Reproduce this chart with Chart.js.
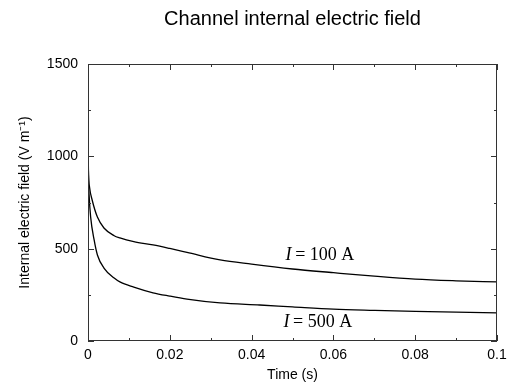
<!DOCTYPE html>
<html><head><meta charset="utf-8">
<script src="https://cdn.jsdelivr.net/npm/chart.js@4/dist/chart.umd.min.js"></script>
<style>html,body{margin:0;padding:0;background:#fff}#wrap{width:515px;height:387px}</style>
</head><body><div id="wrap"><canvas id="c" width="515" height="387"></canvas></div>
<script>
const time100 = [0, 0.0001, 0.0004, 0.001, 0.0023, 0.0039, 0.0064, 0.0078, 0.0112, 0.0159, 0.02, 0.0242, 0.0323, 0.04, 0.05, 0.06, 0.07, 0.08, 0.09, 0.1];
const field100 = [1120, 930, 830, 765, 671, 612, 570, 558, 538, 520, 501, 480, 439, 416, 390, 370, 351, 335, 326, 320];
const time500 = [0, 0.0001, 0.0003, 0.00065, 0.0015, 0.0023, 0.0039, 0.0064, 0.0078, 0.0112, 0.0159, 0.02, 0.0242, 0.0323, 0.042, 0.05, 0.06, 0.07, 0.08, 0.09, 0.1];
const field500 = [1120, 900, 780, 671, 547, 466, 395, 341, 320, 292, 261, 243, 227, 206, 195, 185, 173, 166, 160, 156, 152];
const xTicks = [0, 0.02, 0.04, 0.06, 0.08, 0.1];
const xTickText = ['0', '0.02', '0.04', '0.06', '0.08', '0.1'];
const yTicks = [0, 500, 1000, 1500];
const yTickText = ['0', '500', '1000', '1500'];
const seriesLabels = ['100 A', '500 A'];
const labelPos = [[0.0567, 466], [0.0562, 103]];
const titleText = 'Channel internal electric field';

const toPts = (xs, ys) => xs.map((x, i) => ({x: x, y: ys[i]}));

const boxPlugin = {
  id: 'box',
  afterDraw(chart) {
    const {ctx, chartArea: a, scales: {x, y}} = chart;
    ctx.save();
    ctx.strokeStyle = '#333';
    ctx.lineWidth = 1;
    ctx.strokeRect(a.left + 0.5, a.top + 0.5, a.right - a.left - 1, a.bottom - a.top - 1);
    ctx.beginPath();
    for (let v = 0; v <= 0.1001; v += 0.01) {
      const px = Math.round(x.getPixelForValue(v)) + 0.5;
      const major = Math.round(v * 100) % 2 === 0;
      const L = major ? 6 : 3;
      ctx.moveTo(px, a.bottom); ctx.lineTo(px, a.bottom - L);
      ctx.moveTo(px, a.top); ctx.lineTo(px, a.top + L);
    }
    for (let v = 0; v <= 1500; v += 250) {
      const py = Math.round(y.getPixelForValue(v)) + 0.5;
      const major = v % 500 === 0;
      const L = major ? 6 : 3;
      ctx.moveTo(a.left, py); ctx.lineTo(a.left + L, py);
      ctx.moveTo(a.right, py); ctx.lineTo(a.right - L, py);
    }
    ctx.stroke();
    // title
    ctx.fillStyle = '#000';
    ctx.font = '20px "Liberation Sans", Arial, sans-serif';
    ctx.textAlign = 'center';
    ctx.textBaseline = 'middle';
    ctx.fillText(titleText, (a.left + a.right) / 2, 19);
    // curve labels
    const serif = '"Liberation Serif", "Times New Roman", serif';
    labelPos.forEach((p, i) => {
      const cx = x.getPixelForValue(p[0]);
      const cy = y.getPixelForValue(p[1]);
      ctx.font = 'italic 18px ' + serif;
      const w1 = ctx.measureText('I').width;
      ctx.font = '18px ' + serif;
      const rest = '\u2009= ' + seriesLabels[i];
      const w2 = ctx.measureText(rest).width;
      const x0 = cx - (w1 + w2) / 2;
      ctx.textAlign = 'left';
      ctx.font = 'italic 18px ' + serif;
      ctx.fillText('I', x0, cy);
      ctx.font = '18px ' + serif;
      ctx.fillText(rest, x0 + w1, cy);
    });
    ctx.restore();
  }
};

const font14 = {family: '"Liberation Sans", Arial, sans-serif', size: 14};
new Chart(document.getElementById('c'), {
  type: 'scatter',
  data: {
    datasets: [
      {label: 'I = 100 A', data: toPts(time100, field100)},
      {label: 'I = 500 A', data: toPts(time500, field500)}
    ].map(d => Object.assign(d, {showLine: true, borderColor: '#000', borderWidth: 1.3, pointRadius: 0, cubicInterpolationMode: 'monotone', fill: false}))
  },
  options: {
    responsive: false,
    animation: false,
    layout: {padding: {top: 64, right: 18, left: 0, bottom: 0}},
    plugins: {legend: {display: false}, tooltip: {enabled: false}, title: {display: false}},
    scales: {
      x: {
        type: 'linear', min: 0, max: 0.1,
        afterBuildTicks: s => { s.ticks = xTicks.map(v => ({value: v})); },
        afterFit: s => { s.height = 46; },
        ticks: {color: '#000', font: font14, padding: 6, maxRotation: 0, callback: (v, i) => xTickText[i]},
        grid: {display: false, drawTicks: false},
        border: {display: false},
        title: {display: true, text: 'Time (s)', color: '#000', font: font14, padding: {top: 2, bottom: 3}}
      },
      y: {
        type: 'linear', min: 0, max: 1500,
        afterBuildTicks: s => { s.ticks = yTicks.map(v => ({value: v})); },
        afterFit: s => { s.width = 88; },
        ticks: {color: '#000', font: font14, padding: 10, callback: (v, i) => yTickText[i]},
        grid: {display: false, drawTicks: false},
        border: {display: false},
        title: {display: true, text: 'Internal electric field (V m\u207B\u00B9)', color: '#000', font: font14, padding: {top: 17, bottom: 0}}
      }
    }
  },
  plugins: [boxPlugin]
});
</script>
</body></html>
